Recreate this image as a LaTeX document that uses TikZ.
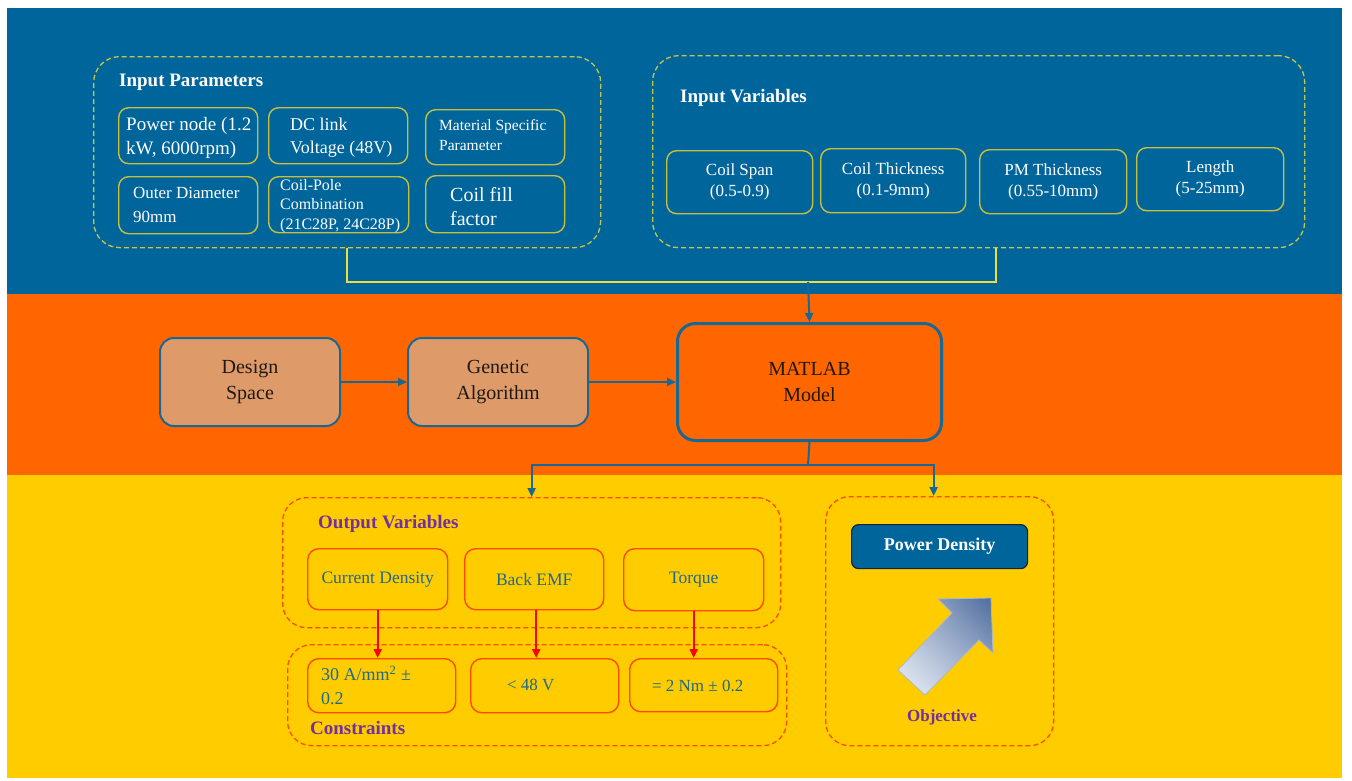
\documentclass[tikz,border=0pt]{standalone}
\usepackage{fontspec}
\setmainfont{Liberation Serif}
\usetikzlibrary{arrows.meta,calc,shadings}
\definecolor{bgblue}{RGB}{0,101,154}
\definecolor{bgorange}{RGB}{255,102,0}
\definecolor{bgyellow}{RGB}{255,204,0}
\definecolor{boxol}{RGB}{200,192,60}
\definecolor{grpyel}{RGB}{195,198,70}
\definecolor{ylinec}{RGB}{238,222,60}
\definecolor{peach}{RGB}{222,155,105}
\definecolor{bordb}{RGB}{24,104,150}
\definecolor{redor}{RGB}{255,75,0}
\definecolor{txteal}{RGB}{30,105,135}
\definecolor{purp}{RGB}{112,48,160}
\definecolor{pdbord}{RGB}{25,35,50}
\definecolor{arlight}{RGB}{236,240,247}
\definecolor{armid}{RGB}{170,185,210}
\definecolor{ardark}{RGB}{78,108,158}
\definecolor{darktxt}{RGB}{30,25,20}
\newcommand\fsz[2]{\fontsize{#1}{#2}\selectfont}
\begin{document}
\begin{tikzpicture}[x=1pt,y=-1pt,
  grpA/.style={draw=grpyel, dashed, dash pattern=on 5pt off 3pt, line width=1.3pt, rounded corners=26pt, anchor=north west, inner sep=0pt},
  grpB/.style={draw=redor, dashed, dash pattern=on 5pt off 3pt, line width=1.3pt, rounded corners=24pt, anchor=north west, inner sep=0pt},
  pbox/.style={draw=boxol, line width=1.4pt, rounded corners=10pt, anchor=north west, inner sep=0pt},
  ptxt/.style={text=white, align=left, inner sep=0pt, anchor=west},
  vbox/.style={draw=boxol, line width=1.4pt, rounded corners=10pt, anchor=north west, inner sep=0pt, text=white, align=center, font=\fsz{17}{21}},
  titleW/.style={text=white, font=\bfseries\fsz{19}{23}, inner sep=0pt, anchor=west},
  titleP/.style={text=purp, font=\bfseries\fsz{19}{23}, inner sep=0pt, anchor=west},
  mbox/.style={fill=peach, draw=bordb, line width=2pt, rounded corners=14pt, anchor=north west, inner sep=0pt, text=darktxt, align=center, font=\fsz{20}{26}},
  obox/.style={draw=redor, line width=1.4pt, rounded corners=11pt, anchor=north west, inner sep=0pt, text=txteal, align=center, font=\fsz{17.5}{22}},
  otxt/.style={text=txteal, inner sep=0pt, font=\fsz{17.5}{24}},
  barrow/.style={draw=bordb, line width=2pt, -{Triangle[length=9pt,width=8pt]}},
  bline/.style={draw=bordb, line width=2pt},
  rarrow/.style={draw=red, line width=2pt, -{Triangle[length=9pt,width=8pt]}},
  yline/.style={draw=ylinec, line width=2pt}
]
\useasboundingbox (0,0) rectangle (1352,780);
\fill[white] (0,0) rectangle (1352,780);
\fill[bgblue] (7,8) rectangle (1342,294);
\fill[bgorange] (7,294) rectangle (1342,475);
\fill[bgyellow] (7,475) rectangle (1342,778);

% ---- Input parameters
\node[grpA, minimum width=507pt, minimum height=191pt] (ipg) at (93,56) {};
\node[titleW] (ipt) at (119,82) {Input Parameters};
\node[pbox, minimum width=139pt, minimum height=56pt] (pn) at (118,107) {};
\node[ptxt, font=\fsz{19}{24}] (pnt) at ([xshift=8pt,yshift=-2pt]pn.west) {Power node (1.2\\kW, 6000rpm)};
\node[pbox, minimum width=139pt, minimum height=56pt] (dc) at (268,107) {};
\node[ptxt, font=\fsz{18}{23}] (dct) at ([xshift=22pt,yshift=-2pt]dc.west) {DC link\\Voltage (48V)};
\node[pbox, minimum width=139pt, minimum height=55pt] (ms) at (425,109) {};
\node[ptxt, font=\fsz{15.5}{20}] (mst) at ([xshift=14pt,yshift=2pt]ms.west) {Material Specific\\Parameter};
\node[pbox, minimum width=139pt, minimum height=57pt] (od) at (118,176) {};
\node[ptxt, font=\fsz{17}{24}] (odt) at ([xshift=15pt]od.west) {Outer Diameter\\90mm};
\node[pbox, minimum width=140pt, minimum height=56pt] (cp) at (268,176) {};
\node[ptxt, font=\fsz{16}{19.5}] (cpt) at ([xshift=12pt,yshift=-1pt]cp.west) {Coil-Pole\\Combination\\(21C28P, 24C28P)};
\node[pbox, minimum width=139pt, minimum height=57pt] (cf) at (425,175) {};
\node[ptxt, font=\fsz{20}{24}] (cft) at ([xshift=25pt,yshift=-2pt]cf.west) {Coil fill\\factor};

% ---- Input variables
\node[grpA, minimum width=652pt, minimum height=192pt] (ivg) at (652,55) {};
\node[titleW] (ivt) at (680,98) {Input Variables};
\node[vbox, minimum width=146pt, minimum height=63pt] (cs) at (666,150) {Coil Span\\(0.5-0.9)};
\node[vbox, minimum width=145pt, minimum height=64pt] (ct) at (820,148) {Coil Thickness\\(0.1-9mm)};
\node[vbox, minimum width=147pt, minimum height=64pt] (pm) at (979,149) {PM Thickness\\(0.55-10mm)};
\node[vbox, minimum width=147pt, minimum height=63pt] (ln) at (1136,147) {Length\\(5-25mm)};

% ---- Middle
\node[mbox, minimum width=180pt, minimum height=88pt] (ds) at (159,337) {Design\\Space};
\node[mbox, minimum width=180pt, minimum height=88pt] (ga) at (407,337) {Genetic\\Algorithm};
\node[mbox, fill=bgorange, line width=3pt, rounded corners=18pt, minimum width=264pt, minimum height=117pt] (mat) at (676,322) {MATLAB\\Model};

\coordinate (yj) at (808,282);
\draw[yline] (ipg.south) |- (yj) -| ([xshift=17pt]ivg.south);
\draw[barrow] (yj) -- (mat.north);
\draw[barrow] (ds.east) -- (ga.west);
\draw[barrow] (ga.east) -- (mat.west);

% ---- Output
\node[grpB, minimum width=498pt, minimum height=130pt] (ovg) at (282,497) {};
\node[titleP] (ovt) at (318,524) {Output Variables};
\node[obox, minimum width=140pt, minimum height=61pt] (cd) at (307,548) {\raisebox{-3pt}{Current Density}};
\node[obox, minimum width=139pt, minimum height=61pt] (be) at (464,548) {Back EMF};
\node[obox, minimum width=140pt, minimum height=62pt] (tq) at (623,548) {Torque};

\node[grpB, minimum width=499pt, minimum height=101pt] (cog) at (287,644) {};
\node[obox, minimum width=148pt, minimum height=54pt] (c1) at (307,658) {};
\node[otxt, align=left, anchor=west, font=\fsz{18}{24}] (c1t) at ([xshift=14pt]c1.west) {30 A/mm\textsuperscript{2} ±\\0.2};
\node[obox, minimum width=148pt, minimum height=54pt] (c2) at (470,658) {};
\node[otxt, font=\fsz{17}{22}] (c2t) at ([xshift=-14pt,yshift=1pt]c2.center) {< 48 V};
\node[obox, minimum width=148pt, minimum height=53pt] (c3) at (629,658) {};
\node[otxt, font=\fsz{17}{22}] (c3t) at ([xshift=-6pt,yshift=-1pt]c3.center) {= 2 Nm ± 0.2};
\node[titleP] (cot) at (310,728) {Constraints};

\draw[rarrow] (cd.south) -- (cd.south |- c1.north);
\draw[rarrow] ([xshift=2pt]be.south) -- ([xshift=2pt]be.south |- c2.north);
\draw[rarrow] (tq.south) -- (tq.south |- c3.north);

% ---- Objective
\node[grpB, minimum width=228pt, minimum height=249pt] (obg) at (825,496) {};
\node[anchor=north west, fill=bgblue, draw=pdbord, line width=1.2pt, rounded corners=7pt, minimum width=176pt, minimum height=44pt, inner sep=0pt, text=white, font=\bfseries\fsz{18}{22}] (pd) at (851,524) {Power Density};
\shadedraw[lower left=arlight, upper right=ardark, upper left=armid, lower right=armid, draw=armid, line width=0.8pt]
  (898,670) -- (952,613) -- (938,599) -- (991,598) -- (993,653) -- (979,640) -- (925,695) -- cycle;
\node[titleP, font=\bfseries\fsz{17}{21}, anchor=center] (objt) at (942,717) {Objective};

\coordinate (bj) at (808,465);
\draw[bline] (mat.south) -- (bj);
\draw[barrow] (bj) -| (ovg.north);
\draw[barrow] (bj) -| ([xshift=-6pt]obg.north);
\end{tikzpicture}
\end{document}
